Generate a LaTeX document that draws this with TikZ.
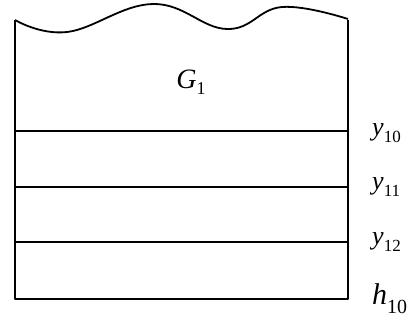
\documentclass[tikz,border=0pt]{standalone}
\usepackage{fontspec}
\setmainfont{Liberation Serif}
\usetikzlibrary{positioning}

\newcommand{\lvl}[2]{\fontsize{26}{28}\selectfont\textit{#1}\raisebox{-0.25em}{\fontsize{17}{18}\selectfont #2}}

\begin{document}
\begin{tikzpicture}[x=1pt,y=-1pt,line join=round,
                    edge/.style={line width=1.8pt},
                    layer/.style={line width=1.5pt},
                    lab/.style={anchor=west,inner sep=0pt}]
    \useasboundingbox (0,0) rectangle (412,322);
    % corners of the block
    \coordinate (tl) at (15,20);
    \coordinate (tr) at (348,20);
    \coordinate (bl) at (15,299);
    \coordinate (br) at (348,299);

    % wavy top and outline
    \draw[edge] plot[smooth,tension=0.7] coordinates {(15,20) (67,32) (153,4)
        (227,29) (282,7) (348,19)};
    \draw[edge] (tl) -- (bl) -- (br) -- (tr);

    % layer boundaries
    \foreach \y/\n in {131/10,187/11,242/12} {
        \coordinate (l\n) at (15,\y);
        \coordinate (r\n) at (348,\y);
        \draw[layer] (l\n) -- (r\n);
    }

    \node (G) at (191,82) {\fontsize{28}{30}\selectfont\textit{G}\raisebox{-0.2em}{\fontsize{18}{20}\selectfont 1}};
    \node[lab] (y10) at (372,133) {\lvl{y}{10}};
    \node[lab] (y11) at (372,187) {\lvl{y}{11}};
    \node[lab] (y12) at (372,242) {\lvl{y}{12}};
    \node[lab] (h10) at (372,299) {\fontsize{30}{32}\selectfont\textit{h}\raisebox{-0.3em}{\fontsize{20}{22}\selectfont 10}};
\end{tikzpicture}
\end{document}
